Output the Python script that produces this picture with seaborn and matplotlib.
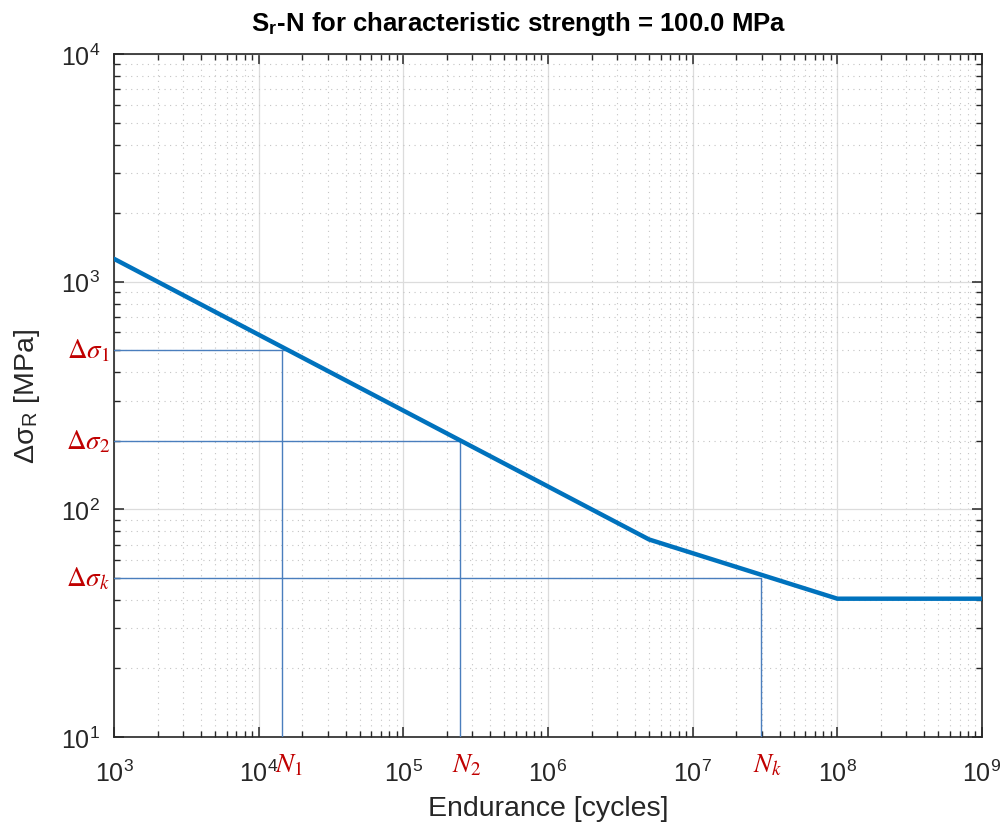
import numpy as np
import pandas as pd
import matplotlib
matplotlib.use('Agg')
import matplotlib.pyplot as plt
import seaborn as sns
from matplotlib.ticker import FixedLocator, LogFormatterSciNotation, NullFormatter

# S-N curve corner points (cycles, MPa)
n_curve = [1e3, 5e6, 1e8, 1e9]
s_curve = [1260, 73.7, 40.5, 40.5]

# marked stress levels and their endurances
mark_tags = ['1', '2', 'k']
s_marks = [500, 200, 50]
n_marks = [1.45e4, 2.45e5, 2.95e7]
n_hits = [1.6e4, 2.5e5, 2.95e7]   # where the horizontal guide stops

x_decades = [3, 4, 5, 6, 7, 8, 9]
y_decades = [1, 2, 3, 4]

sns.set_theme(style='ticks')
plt.rcParams['font.family'] = ['Liberation Sans', 'DejaVu Sans']
plt.rcParams['mathtext.fontset'] = 'stix'

red = '#C00000'
blue = '#0072BD'
guide_blue = '#4A7EBD'
dark = '#262626'

x_lim = (10.0 ** x_decades[0], 10.0 ** x_decades[-1])
y_lim = (10.0 ** y_decades[0], 10.0 ** y_decades[-1])

fig = plt.figure(figsize=(10.03, 8.29), dpi=100)
ax = fig.add_axes([114 / 1003, 1 - 738 / 829, 868 / 1003, 683 / 829])

curve = pd.DataFrame({'N': n_curve, 'S': s_curve})
sns.lineplot(data=curve, x='N', y='S', ax=ax, color=blue, linewidth=3.2,
             sort=False, estimator=None, zorder=4)

rows = []
for i, tag in enumerate(mark_tags):
    rows += [('h' + tag, x_lim[0], s_marks[i]), ('h' + tag, n_hits[i], s_marks[i])]
    rows += [('v' + tag, n_marks[i], s_marks[i]), ('v' + tag, n_marks[i], y_lim[0])]
guides = pd.DataFrame(rows, columns=['seg', 'N', 'S'])
sns.lineplot(data=guides, x='N', y='S', units='seg', ax=ax, color=guide_blue,
             linewidth=1.0, sort=False, estimator=None, zorder=3)

ax.set_xscale('log')
ax.set_yscale('log')
ax.set_xlim(*x_lim)
ax.set_ylim(*y_lim)

def set_log_ticks(axis, decades):
    major = [10.0 ** d for d in decades]
    minor = [k * 10.0 ** d for d in decades[:-1] for k in range(2, 10)]
    axis.set_major_locator(FixedLocator(major))
    axis.set_minor_locator(FixedLocator(minor))
    axis.set_major_formatter(LogFormatterSciNotation())
    axis.set_minor_formatter(NullFormatter())

set_log_ticks(ax.xaxis, x_decades)
set_log_ticks(ax.yaxis, y_decades)

ax.grid(True, which='major', color='#dcdcdc', linewidth=0.9, linestyle='-')
ax.grid(True, which='minor', color='#c4c4c4', linewidth=0.8, linestyle=(0, (1, 4)))
ax.set_axisbelow(True)

ax.tick_params(which='both', direction='in', top=True, right=True, color=dark,
               labelcolor=dark, labelsize=18)
ax.tick_params(which='major', length=7, width=1.1)
ax.tick_params(which='minor', length=4, width=1.0)
ax.tick_params(axis='x', which='major', pad=16)
ax.tick_params(axis='y', which='major', pad=10)
for sp in ax.spines.values():
    sp.set_color(dark)
    sp.set_linewidth(1.2)

ax.set_xlabel('Endurance [cycles]', fontsize=20.5, color=dark)
ax.set_ylabel('Δσ$_\\mathregular{R}$ [MPa]', fontsize=20.5, color=dark)
ax.xaxis.set_label_coords(0.5, -0.085)
ax.yaxis.set_label_coords(-0.083, 0.5)
ax.set_title('S$_\\mathregular{r}$-N for characteristic strength = 100.0 MPa',
             fontsize=18.5, fontweight='bold', color='black', pad=17, x=0.466)

for i, tag in enumerate(mark_tags):
    ax.annotate('$\\Delta\\sigma_{%s}$' % tag, xy=(0, s_marks[i]),
                xycoords=('axes fraction', 'data'), xytext=(-3, 0),
                textcoords='offset points', ha='right', va='center',
                color=red, fontsize=19.5)
    ax.annotate('$N_{%s}$' % tag, xy=(n_marks[i], 0),
                xycoords=('data', 'axes fraction'), xytext=(5, -20),
                textcoords='offset points', ha='center', va='center',
                color=red, fontsize=19.5)

fig.savefig('out.png', dpi=100)
